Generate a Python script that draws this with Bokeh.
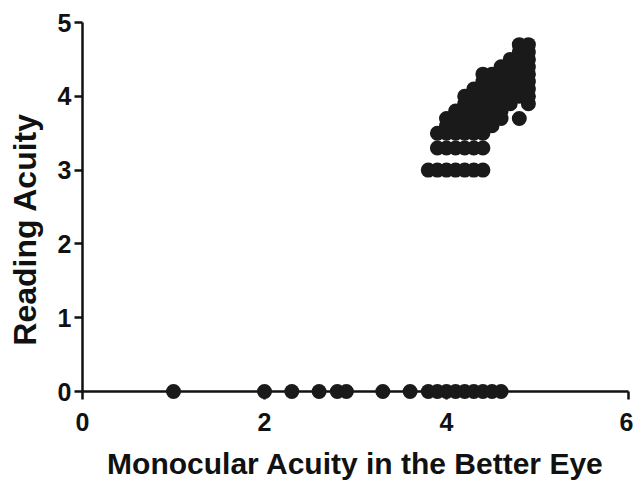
from bokeh.plotting import figure
from bokeh.models import Range1d, FixedTicker
from bokeh.embed import file_html
from bokeh.resources import INLINE

# Points with reading acuity 0
floor_x = [1.0, 2.0, 2.3, 2.6, 2.8, 2.9, 3.3, 3.6, 3.8, 3.9, 4.0, 4.1, 4.2, 4.3, 4.4, 4.5, 4.6]
floor_y = [0.0] * len(floor_x)

# Rows at reading acuity 3.0 and 3.3
row30_x = [3.8, 3.9, 4.0, 4.1, 4.2, 4.3, 4.4]
row33_x = [3.9, 4.0, 4.1, 4.2, 4.3, 4.4]

# Dense cluster: monocular acuity columns and the reading acuities read in each
cluster_x = [3.9, 4.0, 4.1, 4.2, 4.3, 4.4, 4.5, 4.6, 4.7, 4.8, 4.9]
cluster_y = [
    [3.5],
    [3.5, 3.6, 3.7],
    [3.5, 3.6, 3.7, 3.8],
    [3.5, 3.6, 3.7, 3.8, 3.9, 4.0],
    [3.5, 3.6, 3.7, 3.8, 3.9, 4.0, 4.1],
    [3.5, 3.6, 3.7, 3.8, 3.9, 4.0, 4.1, 4.2, 4.3],
    [3.6, 3.7, 3.8, 3.9, 4.0, 4.1, 4.2, 4.3],
    [3.7, 3.8, 3.9, 4.0, 4.1, 4.2, 4.3, 4.4],
    [3.9, 4.0, 4.1, 4.2, 4.3, 4.4, 4.5],
    [3.7, 4.0, 4.1, 4.2, 4.3, 4.4, 4.5, 4.6, 4.7],
    [3.9, 4.0, 4.1, 4.2, 4.3, 4.4, 4.5, 4.6, 4.7],
]

x_ticks = [0, 2, 4, 6]
y_ticks = [0, 1, 2, 3, 4, 5]
x_title = "Monocular Acuity in the Better Eye"
y_title = "Reading Acuity"

xs = list(floor_x) + list(row30_x) + list(row33_x)
ys = list(floor_y) + [3.0] * len(row30_x) + [3.3] * len(row33_x)
for cx, col in zip(cluster_x, cluster_y):
    xs += [cx] * len(col)
    ys += col

INK = "#111111"

p = figure(width=633, height=482, output_backend="svg", toolbar_location=None,
           x_range=Range1d(0, 6), y_range=Range1d(0, 5),
           min_border_left=82, min_border_right=5, min_border_top=22, min_border_bottom=84)
p.outline_line_color = None
p.xgrid.visible = False
p.ygrid.visible = False
p.background_fill_color = "white"
p.border_fill_color = "white"

r = p.scatter(xs, ys, marker="circle", size=15, fill_color="#1a1a1a", line_color="#1a1a1a", line_width=0)
r.level = "overlay"

for ax in (p.xaxis[0], p.yaxis[0]):
    ax.axis_line_width = 2.5
    ax.axis_line_color = INK
    ax.major_tick_line_width = 2.5
    ax.major_tick_line_color = INK
    ax.major_tick_out = 8
    ax.major_tick_in = 0
    ax.minor_tick_line_color = None
    ax.major_label_text_font = "Liberation Sans"
    ax.major_label_text_font_style = "bold"
    ax.major_label_text_font_size = "25px"
    ax.major_label_text_color = INK
    ax.axis_label_text_font = "Liberation Sans"
    ax.axis_label_text_font_style = "bold"
    ax.axis_label_text_color = INK

p.xaxis[0].ticker = FixedTicker(ticks=x_ticks)
p.yaxis[0].ticker = FixedTicker(ticks=y_ticks)
p.xaxis[0].axis_label = x_title
# trailing no-break spaces shift the rotated title down, as in the original
p.yaxis[0].axis_label = y_title + "\u00a0" * 5
p.xaxis[0].axis_label_text_font_size = "30px"
p.yaxis[0].axis_label_text_font_size = "32px"
p.xaxis[0].major_label_standoff = 13
p.yaxis[0].major_label_standoff = 3
p.xaxis[0].axis_label_standoff = 13
p.yaxis[0].axis_label_standoff = 12

open("out.html", "w").write(file_html(p, INLINE))
